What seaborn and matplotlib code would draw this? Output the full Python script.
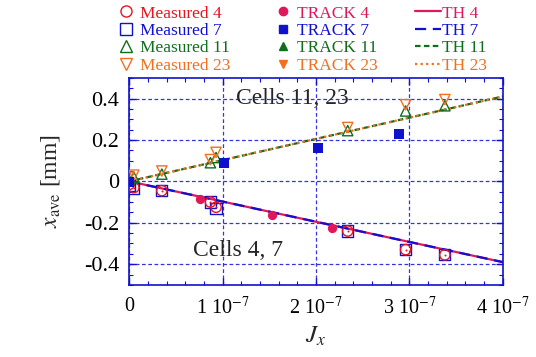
import numpy as np
import pandas as pd
import seaborn as sns
import matplotlib.pyplot as plt
from matplotlib.lines import Line2D
from matplotlib.ticker import MultipleLocator

# measured points (cells 4 / 7 share positions, 11 / 23 share positions)
meas_x = [0.0, 0.05e-7, 0.35e-7, 0.87e-7, 0.93e-7, 2.34e-7, 2.96e-7, 3.38e-7]
meas4_y = [-0.015, -0.03, -0.045, -0.10, -0.125, -0.24, -0.33, -0.355]
meas7_y = [-0.02, -0.035, -0.045, -0.10, -0.13, -0.24, -0.33, -0.355]
meas11_y = [0.005, 0.02, 0.035, 0.09, 0.115, 0.245, 0.34, 0.365]
meas23_y = [0.02, 0.03, 0.05, 0.105, 0.14, 0.26, 0.37, 0.395]

track4_x = [0.76e-7, 1.53e-7, 2.17e-7]
track4_y = [-0.087, -0.163, -0.226]
track7_x = [0.0, 1.02e-7, 2.02e-7, 2.89e-7]
track7_y = [-0.005, 0.09, 0.16, 0.23]

th_x = [0.0, 4e-7]
th4_y = [0.0, -0.39]
th7_y = [0.0, -0.39]
th11_y = [0.0, 0.41]
th23_y = [0.0, 0.41]

xticks = [0, 1e-7, 2e-7, 3e-7, 4e-7]
xtick_labels = ["0", "1 10$^{-7}$", "2 10$^{-7}$", "3 10$^{-7}$", "4 10$^{-7}$"]
yticks = [-0.4, -0.2, 0, 0.2, 0.4]
ytick_labels = ["-0.4", "-0.2", "0", "0.2", "0.4"]

c_red = "#e8141e"
c_crim = "#e0185a"
c_blue = "#1010d0"
c_green = "#0f6e1e"
c_orange = "#f07020"

sns.set_style("ticks")
plt.rcParams["font.family"] = ["Liberation Serif", "DejaVu Serif"]
plt.rcParams["mathtext.fontset"] = "stix"

fig = plt.figure(figsize=(5.36, 3.57), dpi=100)
ax = fig.add_axes([0.241, 0.202, 0.697, 0.58])

ls7 = (0, (5, 3))
ls11 = (0, (2.5, 1.5))
ls23 = (0, (1, 1.5))

# theory lines
sns.lineplot(x=th_x, y=th4_y, ax=ax, color=c_crim, lw=1.6, zorder=2)
sns.lineplot(x=th_x, y=th7_y, ax=ax, color=c_blue, lw=1.6, ls=ls7, zorder=2)
sns.lineplot(x=th_x, y=th11_y, ax=ax, color=c_green, lw=1.6, ls=ls11, zorder=2)
sns.lineplot(x=th_x, y=th23_y, ax=ax, color=c_orange, lw=1.6, ls=ls23, zorder=2)

# measured
sns.scatterplot(x=meas_x, y=meas7_y, ax=ax, marker="s", s=65, facecolor="none",
                edgecolor=c_blue, linewidth=1, zorder=3)
sns.scatterplot(x=meas_x, y=meas4_y, ax=ax, marker="o", s=55, facecolor="none",
                edgecolor=c_red, linewidth=1, zorder=3)
sns.scatterplot(x=meas_x, y=meas4_y, ax=ax, marker="o", s=2, color=c_red,
                linewidth=0, zorder=3)
sns.scatterplot(x=meas_x, y=meas11_y, ax=ax, marker="^", s=55, facecolor="none",
                edgecolor=c_green, linewidth=1, zorder=3)
sns.scatterplot(x=meas_x, y=meas23_y, ax=ax, marker="v", s=55, facecolor="none",
                edgecolor=c_orange, linewidth=1, zorder=3)

# TRACK
sns.scatterplot(x=track4_x, y=track4_y, ax=ax, marker="o", s=45, color=c_crim,
                linewidth=0, zorder=4)
sns.scatterplot(x=track7_x, y=track7_y, ax=ax, marker="s", s=45, color=c_blue,
                linewidth=0, zorder=4)

ax.set_xlim(0, 4e-7)
ax.set_ylim(-0.5, 0.5)
ax.set_xticks(xticks)
ax.set_xticklabels(xtick_labels)
ax.set_yticks(yticks)
ax.set_yticklabels(ytick_labels)
ax.xaxis.set_minor_locator(MultipleLocator(0.2e-7))
ax.yaxis.set_minor_locator(MultipleLocator(0.05))
ax.tick_params(which="both", direction="in", top=True, right=True, colors=c_blue,
               labelcolor="black")
ax.tick_params(which="major", length=5, width=1)
ax.tick_params(which="minor", length=3, width=0.8)
ax.tick_params(axis="x", pad=9, labelsize=14.5)
ax.tick_params(axis="y", pad=7, labelsize=16)
for sp in ax.spines.values():
    sp.set_color(c_blue)
    sp.set_linewidth(1.2)
ax.grid(True, which="major", color="#3434e0", ls=(0, (3, 2)), lw=0.9)

ax.set_xlabel("$J_x$", fontsize=18, labelpad=4)
ax.set_ylabel("$x_{\\rm ave}$ [mm]", fontsize=17, labelpad=16)

ax.text(1.14e-7, 0.40, "Cells 11, 23", fontsize=17, va="center", ha="left")
ax.text(0.68e-7, -0.335, "Cells 4, 7", fontsize=17, va="center", ha="left")

# legend in three columns placed separately
col1 = [Line2D([], [], marker="o", ls="none", mfc="none", mec=c_red, ms=8),
        Line2D([], [], marker="s", ls="none", mfc="none", mec=c_blue, ms=8),
        Line2D([], [], marker="^", ls="none", mfc="none", mec=c_green, ms=8),
        Line2D([], [], marker="v", ls="none", mfc="none", mec=c_orange, ms=8)]
col2 = [Line2D([], [], marker="o", ls="none", color=c_crim, ms=6),
        Line2D([], [], marker="s", ls="none", color=c_blue, ms=6),
        Line2D([], [], marker="^", ls="none", color=c_green, ms=6),
        Line2D([], [], marker="v", ls="none", color=c_orange, ms=6)]
col3 = [Line2D([], [], color=c_crim, lw=1.6),
        Line2D([], [], color=c_blue, lw=1.6, ls=ls7),
        Line2D([], [], color=c_green, lw=1.6, ls=ls11),
        Line2D([], [], color=c_orange, lw=1.6, ls=ls23)]
lab1 = ["Measured 4", "Measured 7", "Measured 11", "Measured 23"]
lab2 = ["TRACK 4", "TRACK 7", "TRACK 11", "TRACK 23"]
lab3 = ["TH 4", "TH 7", "TH 11", "TH 23"]
colors1 = [c_red, c_blue, c_green, c_orange]
colors2 = [c_crim, c_blue, c_green, c_orange]

for hs, ls_, cols, x0, hl, pad in [(col1, lab1, colors1, 0.218, 1.0, 0.35),
                                   (col2, lab2, colors2, 0.511, 1.0, 0.35),
                                   (col3, lab3, colors2, 0.774, 1.5, 0.05)]:
    leg = fig.legend(hs, ls_, loc="upper left", bbox_to_anchor=(x0, 0.985),
                     frameon=False, fontsize=12.5, labelcolor=cols,
                     handlelength=hl, handletextpad=pad, labelspacing=0.07,
                     borderpad=0, borderaxespad=0)

fig.savefig("out.png", dpi=100)
